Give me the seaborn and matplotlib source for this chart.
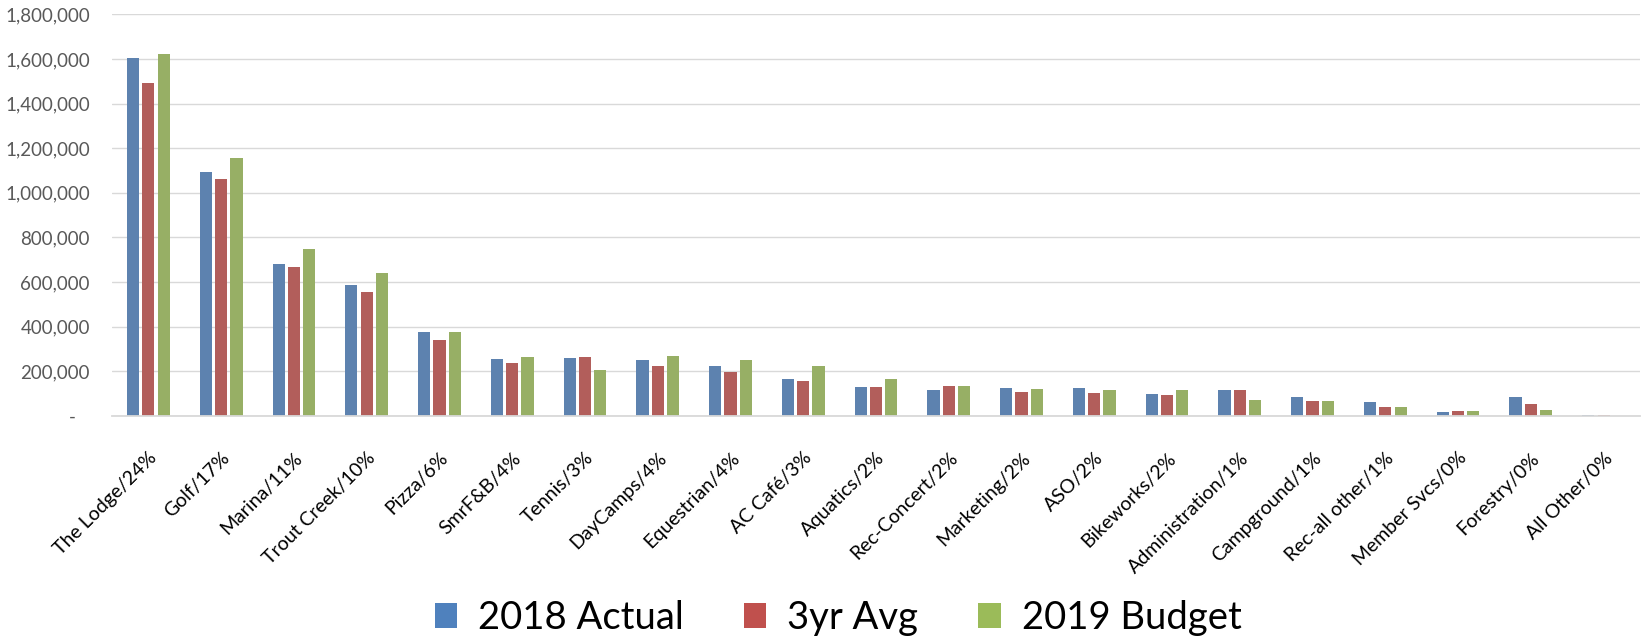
import matplotlib
matplotlib.use("Agg")
import matplotlib.pyplot as plt
from matplotlib.patches import Patch
import seaborn as sns
import pandas as pd

categories = ["The Lodge/24%", "Golf/17%", "Marina/11%", "Trout Creek/10%", "Pizza/6%",
              "SmrF&B/4%", "Tennis/3%", "DayCamps/4%", "Equestrian/4%", "AC Café/3%",
              "Aquatics/2%", "Rec-Concert/2%", "Marketing/2%", "ASO/2%", "Bikeworks/2%",
              "Administration/1%", "Campground/1%", "Rec-all other/1%", "Member Svcs/0%",
              "Forestry/0%", "All Other/0%"]
actual_2018 = [1602000, 1094000, 679000, 589000, 377000, 254000, 259000, 253000, 223000, 166000,
               132000, 115000, 124000, 124000, 100000, 116000, 84000, 61000, 20000, 84000, 6000]
avg_3yr = [1490000, 1064000, 667000, 555000, 341000, 238000, 266000, 226000, 199000, 157000,
           132000, 136000, 109000, 102000, 95000, 116000, 66000, 41000, 23000, 52000, 6000]
budget_2019 = [1622000, 1155000, 747000, 643000, 378000, 266000, 208000, 271000, 251000, 226000,
               164000, 133000, 121000, 118000, 115000, 70000, 67000, 40000, 21000, 29000, 0]
series_names = ["2018 Actual", "3yr Avg", "2019 Budget"]
colors = ["#4F81BD", "#C0504D", "#9BBB59"]
yticks = [0, 200000, 400000, 600000, 800000, 1000000, 1200000, 1400000, 1600000, 1800000]
ytick_labels = ["-   "] + [f"{v:,}" for v in yticks[1:]]

sns.set_style("white")
plt.rcParams["font.family"] = ["Lato", "DejaVu Sans"]
plt.rcParams["text.color"] = "black"

rows = []
for name, vals in zip(series_names, [actual_2018, avg_3yr, budget_2019]):
    for c, v in zip(categories, vals):
        rows.append({"category": c, "series": name, "value": v})
df = pd.DataFrame(rows)

fig = plt.figure(figsize=(16.47, 6.39), dpi=100)
ax = fig.add_axes([112/1647, 1-416/639, (1640-112)/1647, (416-14.3)/639])

sns.barplot(data=df, x="category", y="value", hue="series", hue_order=series_names,
            order=categories, palette=colors, width=0.63, gap=0.2, ax=ax,
            edgecolor="none", linewidth=0, legend=False, errorbar=None)

ax.set_xlim(-0.5, len(categories) - 0.5)
ax.set_ylim(0, 1800000)
ax.set_yticks(yticks)
ax.set_yticklabels(ytick_labels)
ax.yaxis.grid(True, color="#D9D9D9", linewidth=1.0)
ax.set_axisbelow(True)
for s in ["left", "right", "top"]:
    ax.spines[s].set_visible(False)
ax.spines["bottom"].set_color("#D9D9D9")
ax.spines["bottom"].set_linewidth(1.3)
ax.set_xlabel("")
ax.set_ylabel("")
ax.tick_params(axis="y", length=0, pad=16, labelsize=13.5, labelcolor="#595959")
ax.tick_params(axis="x", length=0, pad=24, labelsize=14, labelcolor="#000000")
plt.setp(ax.get_xticklabels(), rotation=45, ha="right", va="top", rotation_mode="anchor")

handles = [Patch(facecolor=c, edgecolor="none") for c in colors]
fig.legend(handles, series_names, loc="center", bbox_to_anchor=(838/1647, 1-618/639),
           ncol=3, frameon=False, fontsize=27.5, handlelength=0.6, handleheight=0.6,
           handletextpad=0.55, columnspacing=1.55, borderpad=0, borderaxespad=0,
           labelcolor="black")

fig.savefig("out.png", dpi=100)
